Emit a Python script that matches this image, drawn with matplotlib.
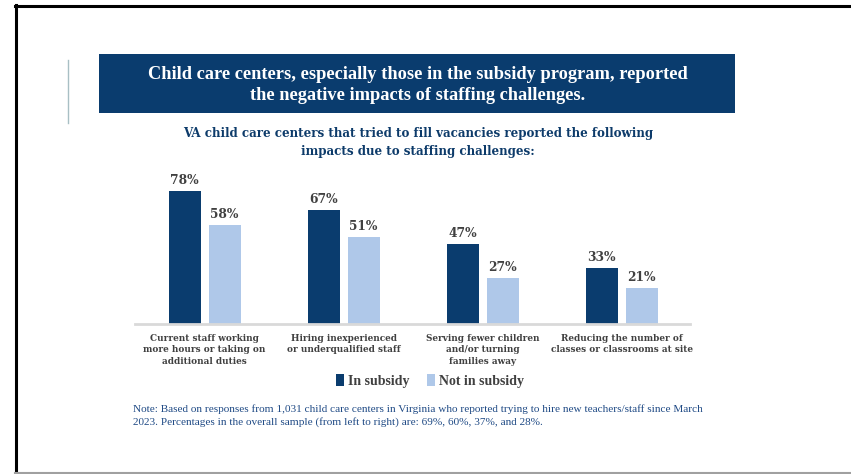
import matplotlib
matplotlib.use("Agg")
import matplotlib.pyplot as plt
from matplotlib.patches import Rectangle
from matplotlib.lines import Line2D
import numpy as np

categories = [
    "Current staff working\nmore hours or taking on\nadditional duties",
    "Hiring inexperienced\nor underqualified staff",
    "Serving fewer children\nand/or turning\nfamilies away",
    "Reducing the number of\nclasses or classrooms at site",
]
in_subsidy = [78, 67, 47, 33]
not_in_subsidy = [58, 51, 27, 21]
series_names = ["In subsidy", "Not in subsidy"]

title = "Child care centers, especially those in the subsidy program, reported\nthe negative impacts of staffing challenges."
subtitle = "VA child care centers that tried to fill vacancies reported the following\nimpacts due to staffing challenges:"
note = ("Note: Based on responses from 1,031 child care centers in Virginia who reported trying to hire new teachers/staff since March\n"
        "2023. Percentages in the overall sample (from left to right) are: 69%, 60%, 37%, and 28%.")

DARK = "#0a3c6e"
LIGHT = "#afc8e9"
NAVY = "#0d3b6a"
GRAY = "#404040"

W, H = 851, 474
fig = plt.figure(figsize=(W / 100, H / 100), dpi=100)

def fx(px):
    return px / W

def fy(py):
    return 1 - py / H

# frame lines
fig.add_artist(Line2D([fx(16), fx(16)], [fy(5), fy(474)], color="black", lw=2.2, transform=fig.transFigure))
fig.add_artist(Line2D([fx(15), fx(851)], [fy(5.5), fy(5.5)], color="black", lw=2.2, transform=fig.transFigure))
fig.add_artist(Line2D([fx(15), fx(851)], [fy(472.5), fy(472.5)], color="#a0a0a0", lw=1.5, transform=fig.transFigure))
# thin accent line
fig.add_artist(Line2D([fx(67.5), fx(67.5)], [fy(60), fy(123)], color="#a8bfc4", lw=1.0, transform=fig.transFigure))

# title box
fig.add_artist(Rectangle((fx(99), fy(113)), fx(735) - fx(99), fy(54) - fy(113),
                         facecolor=DARK, edgecolor="none", transform=fig.transFigure))
fig.text(fx(418), fy(85), title, ha="center", va="center", color="white",
         fontsize=13.2, fontweight="bold", family="Liberation Serif", linespacing=1.38)

fig.text(fx(418), fy(142.5), subtitle, ha="center", va="center", color=NAVY,
         fontsize=8.6, fontweight="bold", family="DejaVu Serif", linespacing=1.5)

# axes
ax = fig.add_axes([fx(135), fy(324), fx(690) - fx(135), (324 - 171) / H])
x = np.arange(len(categories))
bw = 0.23
off = 0.144
b1 = ax.bar(x - off, in_subsidy, bw, color=DARK, label=series_names[0])
b2 = ax.bar(x + off, not_in_subsidy, bw, color=LIGHT, label=series_names[1])
for bars, vals in ((b1, in_subsidy), (b2, not_in_subsidy)):
    for rect, v in zip(bars, vals):
        ax.text(rect.get_x() + rect.get_width() / 2, v + 2.3, f"{v}%", ha="center", va="bottom",
                fontsize=8.8, fontweight="bold", color=GRAY, family="DejaVu Serif")
ax.set_xlim(-0.5, 3.49)
ax.set_ylim(0, 90)
for s in ("top", "right", "left"):
    ax.spines[s].set_visible(False)
ax.spines["bottom"].set_color("#d9d9d9")
ax.spines["bottom"].set_linewidth(2)
ax.set_yticks([])
ax.set_xticks(x)
ax.set_xticklabels(categories, fontsize=6.4, fontweight="bold", color=GRAY, family="DejaVu Serif",
                   linespacing=1.35, va="top")
ax.tick_params(axis="x", length=0, pad=7)
ax.patch.set_alpha(0)

leg = fig.legend(handles=[b1, b2], loc="center", bbox_to_anchor=(fx(430), fy(381)), ncol=2, frameon=False,
                 handlelength=0.55, handleheight=0.9, handletextpad=0.3, columnspacing=1.3,
                 prop={"family": "Liberation Serif", "weight": "bold", "size": 10})
for t in leg.get_texts():
    t.set_color(GRAY)

fig.text(fx(133), fy(415.5), note, ha="left", va="center", color="#1f4a85",
         fontsize=8.1, family="Liberation Serif", linespacing=1.4)

fig.savefig("out.png", dpi=100)
